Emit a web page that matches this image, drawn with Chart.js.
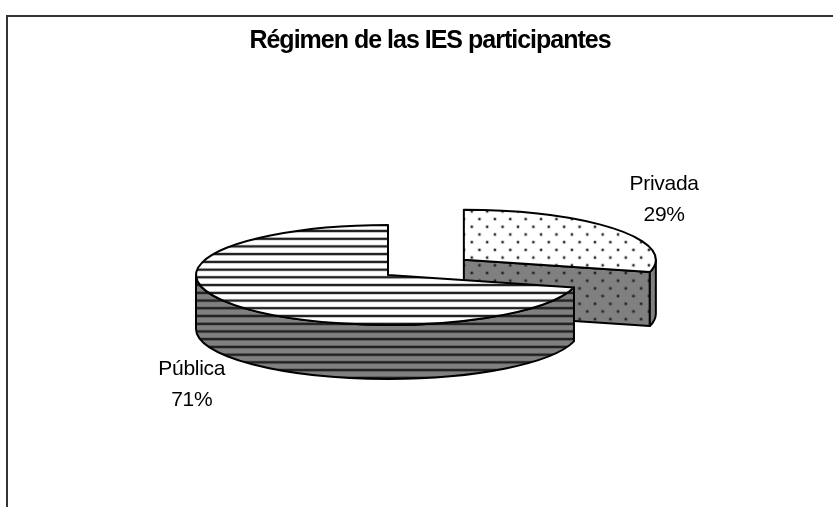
<!DOCTYPE html>
<html>
<head>
<meta charset="utf-8">
<style>
  html, body { margin: 0; padding: 0; background: #fff; }
  canvas { display: block; }
</style>
<script src="https://cdn.jsdelivr.net/npm/chart.js@4/dist/chart.umd.min.js"></script>
</head>
<body>
<canvas id="myChart" width="833" height="507"></canvas>
<script>
// Datos del grafico
const categories = ['Privada', 'Pública'];
const shares = [29, 71];
const chartTitle = 'Régimen de las IES participantes';

// Geometria de la torta 3D
const pieX = 388, pieY = 275, tilt = 0.26, depth = 54;
const labelNudge = [[0, -20], [4, 69]];

function tile(w, h, base, paint) {
    const c = document.createElement('canvas');
    c.width = w; c.height = h;
    const g = c.getContext('2d');
    g.fillStyle = base;
    g.fillRect(0, 0, w, h);
    paint(g);
    return c;
}

function stripes(base) {
    const t = tile(16, 16, base, g => {
        g.fillStyle = 'rgba(0,0,0,0.3)';
        g.fillRect(0, 4.5, 16, 7);
        g.fillStyle = '#222';
        g.fillRect(0, 6, 16, 4);
    });
    const p = document.createElement('canvas').getContext('2d').createPattern(t, 'repeat');
    p.setTransform(new DOMMatrix([0.5, 0, 0, 7.73 / 16, 0, 227.1]));
    return p;
}

function dots(base) {
    const t = tile(16, 16, base, g => {
        [[4, 4], [12, 12]].forEach(d => {
            g.fillStyle = 'rgba(0,0,0,0.2)';
            g.beginPath();
            g.arc(d[0], d[1], 2.1, 0, Math.PI * 2);
            g.fill();
            g.fillStyle = '#222';
            g.beginPath();
            g.arc(d[0], d[1], 1.2, 0, Math.PI * 2);
            g.fill();
        });
    });
    const p = document.createElement('canvas').getContext('2d').createPattern(t, 'repeat');
    p.setTransform(new DOMMatrix([15.4 / 16, 0, 0, 15.4 / 16, 467.9, 207.5]));
    return p;
}

const topFills = [dots('#fff'), stripes('#fff')];
const wallFills = [dots('#808080'), stripes('#808080')];

function paintPath(ctx, fill) {
    ctx.fillStyle = fill;
    ctx.fill();
    ctx.stroke();
}

const pie3d = {
    id: 'pie3d',
    beforeDraw(chart) {
        const ctx = chart.ctx;
        ctx.letterSpacing = '-1px';
        // marco: solo arriba y a la izquierda
        ctx.save();
        ctx.strokeStyle = '#333';
        ctx.lineWidth = 2;
        ctx.beginPath();
        ctx.moveTo(7, chart.height);
        ctx.lineTo(7, 16);
        ctx.lineTo(chart.width, 16);
        ctx.stroke();
        ctx.restore();
    },
    beforeDatasetDraw(chart, args) {
        const ctx = chart.ctx;
        ctx.save();
        ctx.strokeStyle = '#000';
        ctx.lineWidth = 2;
        ctx.lineJoin = 'round';
        args.meta.data.forEach((arc, i) => {
            const r = arc.outerRadius, a0 = arc.startAngle, a1 = arc.endAngle;
            const mid = (a0 + a1) / 2, push = arc.options.offset / 4;
            const x = pieX + Math.cos(mid) * push;
            const y = pieY + Math.sin(mid) * push * tilt;
            const rim = a => [x + Math.cos(a) * r, y + Math.sin(a) * r * tilt];

            // caras de corte visibles
            [[a0, -1], [a1, 1]].forEach(([a, side]) => {
                if (Math.sin(a + side * Math.PI / 2) < 0.01) return;
                const p = rim(a);
                ctx.beginPath();
                ctx.moveTo(x, y);
                ctx.lineTo(p[0], p[1]);
                ctx.lineTo(p[0], p[1] + depth);
                ctx.lineTo(x, y + depth);
                ctx.closePath();
                paintPath(ctx, wallFills[i]);
            });

            // pared exterior, solo la mitad de adelante
            const w0 = Math.max(a0, 0), w1 = Math.min(a1, Math.PI);
            if (w1 > w0) {
                ctx.beginPath();
                ctx.ellipse(x, y, r, r * tilt, 0, w0, w1);
                ctx.ellipse(x, y + depth, r, r * tilt, 0, w1, w0, true);
                ctx.closePath();
                paintPath(ctx, wallFills[i]);
            }

            // tapa
            ctx.beginPath();
            ctx.moveTo(x, y);
            ctx.ellipse(x, y, r, r * tilt, 0, a0, a1);
            ctx.closePath();
            paintPath(ctx, arc.options.backgroundColor);
        });
        ctx.restore();
        return false;
    },
    afterDatasetsDraw(chart) {
        const ctx = chart.ctx;
        const total = shares.reduce((a, b) => a + b, 0);
        ctx.save();
        ctx.fillStyle = '#000';
        ctx.letterSpacing = '-0.3px';
        ctx.font = '21px "Liberation Sans"';
        ctx.textAlign = 'center';
        ctx.textBaseline = 'middle';
        chart.getDatasetMeta(0).data.forEach((arc, i) => {
            const mid = (arc.startAngle + arc.endAngle) / 2, push = arc.options.offset / 4;
            const k = arc.outerRadius * 1.32 + push;
            const lx = pieX + Math.cos(mid) * k + labelNudge[i][0];
            const ly = pieY + Math.sin(mid) * k * tilt + labelNudge[i][1];
            ctx.fillText(categories[i], lx, ly - 15.5);
            ctx.fillText(Math.round(shares[i] / total * 100) + '%', lx, ly + 15.5);
        });
        ctx.restore();
    }
};

const ctx = document.getElementById('myChart').getContext('2d');
const myChart = new Chart(ctx, {
    type: 'pie',
    data: {
        labels: categories,
        datasets: [{
            data: shares,
            backgroundColor: topFills,
            borderWidth: 0,
            offset: [384, 0]
        }]
    },
    options: {
        responsive: false,
        animation: false,
        radius: 192,
        layout: { padding: { left: 27 } },
        plugins: {
            legend: { display: false },
            tooltip: { enabled: false },
            title: {
                display: true,
                text: chartTitle,
                color: '#000',
                font: { family: '"Liberation Sans"', size: 25, weight: 'bold' },
                padding: { top: 26, bottom: 10 }
            }
        }
    },
    plugins: [pie3d]
});
</script>
</body>
</html>
